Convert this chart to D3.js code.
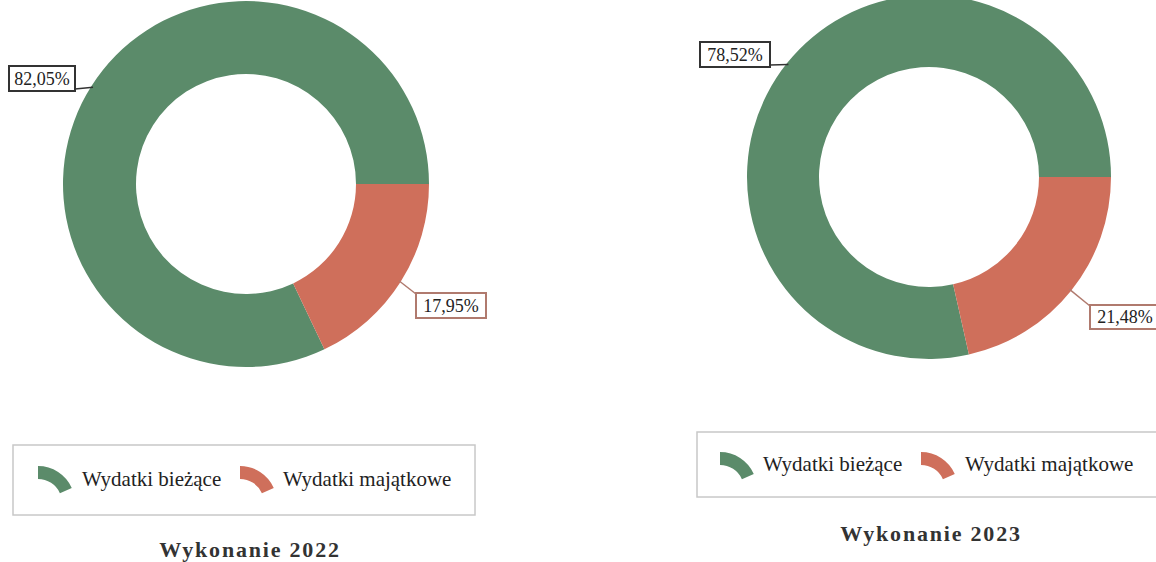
<!DOCTYPE html>
<html>
<head>
<meta charset="utf-8">
<script src="https://cdn.jsdelivr.net/npm/d3@7"></script>
<style>
  body { margin: 0; background: #fff; }
  svg { display: block; }
</style>
</head>
<body>
<svg id="chart" width="1156" height="562"></svg>
<script>
// data
const categories = ["Wydatki bieżące", "Wydatki majątkowe"];
const values2022 = [82.05, 17.95];
const values2023 = [78.52, 21.48];
const titles = ["Wykonanie 2022", "Wykonanie 2023"];

const colors = ["#5b8b6a", "#cf6f5b"];
const labelBorder = ["#333333", "#b07a6e"];

const svg = d3.select("#chart");
const fmt = v => d3.format(".2f")(v).replace(".", ",") + "%";

const panels = [
  { values: values2022, title: titles[0], cx: 246, cy: 184, r: 183, ir: 110,
    labels: [{ x: 9, y: 66, w: 66, h: 25, lx: 75, ly: 89 }, { x: 416, y: 293, w: 70, h: 25, lx: 416, ly: 294 }],
    legend: { x: 13, y: 445, w: 462, h: 70, iy: 466, items: [38, 240], tx: [82, 283], base: 486 },
    titleX: 250, titleY: 557 },
  { values: values2023, title: titles[1], cx: 929, cy: 177, r: 182, ir: 110,
    labels: [{ x: 700, y: 42, w: 70, h: 25, lx: 770, ly: 65 }, { x: 1090, y: 305, w: 70, h: 24, lx: 1090, ly: 306 }],
    legend: { x: 697, y: 432, w: 470, h: 65, iy: 452, items: [720, 921], tx: [763, 965], base: 471 },
    titleX: 931, titleY: 541 }
];

panels.forEach(p => {
  const g = svg.append("g");
  const total = d3.sum(p.values);
  // first category ends at 3 o'clock, the second starts there going clockwise
  const start = Math.PI / 2 + (p.values[1] / total) * 2 * Math.PI;
  const pie = d3.pie().sort(null).startAngle(start).endAngle(start + 2 * Math.PI);
  const arc = d3.arc().innerRadius(p.ir).outerRadius(p.r);
  const arcs = pie(p.values);

  g.append("g")
    .attr("transform", `translate(${p.cx},${p.cy})`)
    .selectAll("path")
    .data(arcs)
    .join("path")
    .attr("d", arc)
    .attr("fill", (d, i) => colors[i]);

  // labels with leader lines to the middle of each slice
  arcs.forEach((d, i) => {
    const lab = p.labels[i];
    const mid = (d.startAngle + d.endAngle) / 2;
    const ex = p.cx + Math.sin(mid) * (p.r - 2);
    const ey = p.cy - Math.cos(mid) * (p.r - 2);
    g.append("line")
      .attr("x1", lab.lx).attr("y1", lab.ly)
      .attr("x2", ex).attr("y2", ey)
      .attr("stroke", labelBorder[i]).attr("stroke-width", 1.5);
    g.append("rect")
      .attr("x", lab.x).attr("y", lab.y)
      .attr("width", lab.w).attr("height", lab.h)
      .attr("fill", "#fff")
      .attr("stroke", labelBorder[i]).attr("stroke-width", 2);
    g.append("text")
      .attr("x", lab.x + lab.w / 2).attr("y", lab.y + lab.h / 2 + 6)
      .attr("text-anchor", "middle")
      .attr("font-family", "Liberation Serif")
      .attr("font-size", 18)
      .attr("fill", "#222")
      .text(fmt(p.values[i]));
  });

  // legend
  const L = p.legend;
  g.append("rect")
    .attr("x", L.x).attr("y", L.y).attr("width", L.w).attr("height", L.h)
    .attr("fill", "none").attr("stroke", "#c8c8c8").attr("stroke-width", 1.5);
  const icon = d3.arc().innerRadius(24).outerRadius(37).startAngle(0).endAngle(1.15);
  categories.forEach((c, i) => {
    g.append("path")
      .attr("transform", `translate(${L.items[i]},${L.iy + 37})`)
      .attr("d", icon)
      .attr("fill", colors[i]);
    g.append("text")
      .attr("x", L.tx[i]).attr("y", L.base)
      .attr("font-family", "Liberation Serif")
      .attr("font-size", 21)
      .attr("fill", "#222")
      .text(c);
  });

  // title
  g.append("text")
    .attr("x", p.titleX).attr("y", p.titleY)
    .attr("text-anchor", "middle")
    .attr("font-family", "Liberation Serif")
    .attr("font-weight", "bold")
    .attr("font-size", 22)
    .attr("letter-spacing", 1.8)
    .attr("fill", "#333")
    .text(p.title);
});
</script>
</body>
</html>
